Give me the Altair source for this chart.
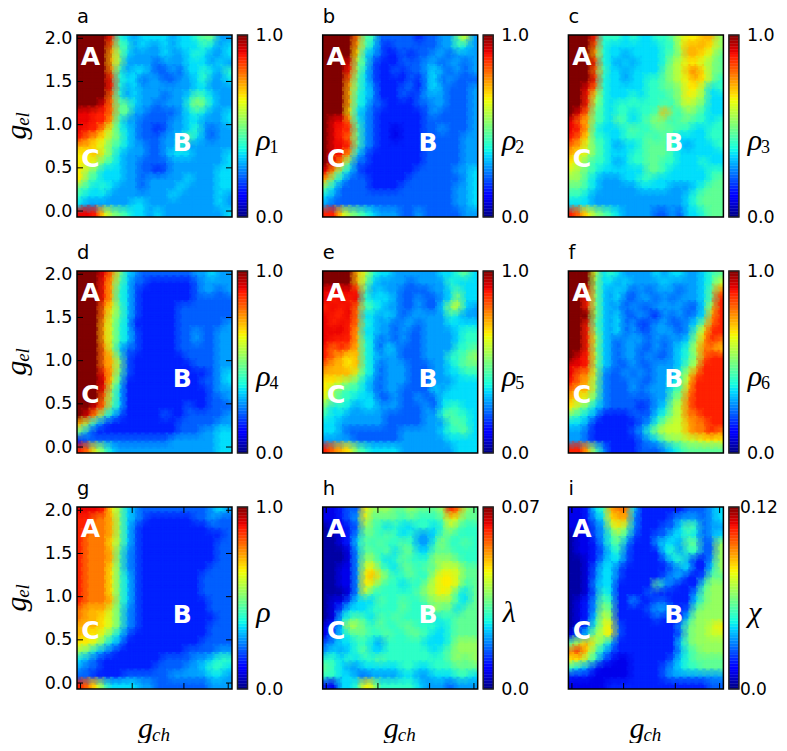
import altair as alt
import pandas as pd

X_MIN, X_MAX = -0.0068, 0.2930
Y_MIN, Y_MAX = -0.069, 2.038
W, H = 155, 182
X_TICKS = [0, 0.1, 0.2, 0.2857]
Y_TICKS = [0, 0.5, 1.0, 1.5, 2.0]
STOPS = [0, .11, .125, .34, .375, .64, .66, .89, .91, 1]
JET = ["#000080", "#0000ff", "#0000ff", "#00dbff", "#14ffe2", "#eeff08", "#ffec00", "#ff1300", "#e80000", "#800000"]

# Cell levels, in sixteenths of the colour range, top row first.
panel_a = """ffffd 65455 55455 67744|ffffc 76454 45455 56545|ffffb 85444 45445 65445|ffffb 84444 34445 55454|ffffc 64554 33435 56546|ffffd 65534 43344 56445|ffffd 64544 44444 55444|ffffc 64544 43445 76544|fffec 77544 34446 87544|eeddc 77443 33345 65445|eeddb 64433 33445 54445|eddb9 65433 23445 64344|dcba8 75433 34457 54344|bba97 65443 34464 44444|aab97 54443 34555 44445|aa976 54433 33444 44445|a8755 54433 23444 44455|a7655 54434 44445 44455|76565 44434 44454 44455|65554 44444 44544 44454|54444 44554 44444 44454|eeda8 76554 54444 44445"""
panel_b = """ffffc 76333 33233 44794|ffffb 75323 33333 44654|ffffa 54322 32334 43444|fffe8 63222 33344 34434|fffd8 53223 23345 43434|fffc7 53222 23245 34333|fffb7 54222 33245 43334|fffb6 54222 32344 43334|fffb6 53322 22334 43334|fffa5 43222 22234 33334|feec6 43222 22233 33334|fedd7 43221 22233 43334|fedc7 43221 22233 33344|feed7 43222 22233 33344|fedb5 32222 22233 33344|feb73 32222 22233 33344|eb753 22222 22333 33445|b7533 32222 23333 33345|75333 32222 33333 33445|54333 33333 33333 33445|43333 33333 33333 33445|dda87 65444 33433 33344"""
panel_c = """fffd6 66565 56679 aabb8|fffc6 55555 55669 bbba8|fffb6 55455 55678 bba97|fffd6 54545 55689 aa987|fffc7 55455 55789 bca87|fffd6 55455 66789 aba86|ffec6 55555 66778 aa856|ffd96 55565 66678 a9855|ffd86 56666 66768 98755|fec76 56656 67b76 87655|ecb76 57656 78767 76656|edb65 55676 67776 65566|dca66 55666 76765 55566|cb976 54556 77765 45556|ba976 55566 77765 55555|a9766 54566 77665 55655|98765 55555 77655 55566|88654 44556 65555 55567|77654 44445 55544 45677|66544 44444 44444 56777|55544 44444 44444 56777|dca87 65444 43343 55677"""
panel_d = """fffec 85433 33333 44544|fffdb 75332 22222 34444|fffdb 65322 22222 34434|fffdb 65322 22222 33333|fffca 75322 22233 33333|fffc9 75322 22233 33333|fffb9 65222 22233 33334|fffb9 65322 22233 43344|fffb9 65322 22233 43344|fffc9 53322 22233 33344|fffcb 73222 22223 33344|fffcb 83222 22222 33344|fffdb 73222 22222 22345|fffea 62222 22222 23345|fffd8 52222 22222 22344|fffc8 52222 22222 22334|ffec7 52222 22223 22333|feb75 32222 23223 33334|b8532 22222 22233 33344|74222 22222 22233 34455|23333 33333 33444 44455|dc975 44444 44444 44455"""
panel_e = """ffffb 96554 44444 55675|ffffb 85444 43444 46555|eeeed 74544 33334 45755|edede 65554 33433 45855|dedec 76544 33433 58954|eddec 55454 34444 46544|ededc 65443 44344 45555|eeedb 55443 43344 44566|edddb 65343 43344 44566|dcdcb 65354 33344 44667|dcbab 65444 33344 46678|cbbab 65344 43334 45677|bbbb9 65344 43334 45566|aa987 54344 43334 44555|a8766 54344 33335 45555|98665 55334 33433 55555|75654 55444 33343 56655|65544 44433 33344 67665|55444 44433 33344 46765|55433 33333 44444 56675|44443 33333 44444 45555|dcba7 65555 44444 44555"""
panel_f = """fff95 65444 45455 44567|fff85 54544 44544 44569|ffe85 45434 34443 4457c|ffd85 45334 43434 4457d|ffd85 44343 34444 3359d|fff85 45334 32434 345bd|ffd75 45342 34433 458cd|ffd85 45343 34443 47add|ffd95 43444 34344 58bdc|ffd85 43443 34345 69ccb|fed95 43443 43345 68cdd|eed85 43343 34445 79ddd|ecc94 33434 34446 9cddd|dcb84 33343 34456 adddd|cbb84 33343 44467 bdddd|ba974 33333 34478 cdddd|a8754 33332 34589 cdddd|76542 22233 35689 ccddd|55422 22223 46899 bccdd|44322 22234 68999 bccdc|44322 22223 45788 99aaa|ddb74 22223 33456 77777"""
panel_g = """eeeda 85433 33333 33454|ddccb 85432 22222 33433|ddccb 85322 22222 22333|dcccb 85322 22222 22223|dccca 85322 22222 22233|dcccb 74322 22222 22233|dcccb 74322 22222 22233|dccca 74322 22222 22333|dccca 75322 22222 23333|dccca 75322 22222 23333|dccca 75322 22222 23333|dcccb 75322 22222 22333|cbbb9 74322 22222 22333|cbba9 74322 22222 22233|bbba9 74322 22222 22333|baa97 53222 22222 22333|aa975 42222 22222 23333|87543 22222 22223 33344|54322 22222 23333 44566|43322 22222 33334 45665|33222 23333 33444 44554|dca75 55544 33333 33444"""
panel_h = """11233 a8887 78777 8dc87|11234 a7777 67666 7a977|01123 87656 55665 69766|00124 77676 56445 77666|00125 76766 76446 86676|00014 77675 77557 77666|00014 88656 76668 88766|00114 9a765 77677 99977|00114 ab976 67669 aa977|00114 a9766 56689 aa967|00014 96666 66789 a9657|01135 55766 76678 88657|01355 56666 76668 77577|01567 65767 66665 66777|12598 76766 77666 56777|13567 76676 67765 56777|34556 65466 66655 56888|45456 75566 66665 67888|66565 66766 66666 67878|76544 55555 66556 66777|66554 34444 55445 55665|21556 a9666 66544 43444"""
panel_i = """11256 bcc52 22222 33345|11245 abb42 22234 44345|11134 8a842 22335 76344|01134 68632 23355 65345|01124 67422 24554 77338|01123 56322 22564 66338|00124 55322 22356 42248|00135 53222 22234 52258|00135 53222 22344 22377|00145 52222 27432 22688|00136 52222 32222 24788|01247 62242 23322 25788|01248 72222 34432 37888|01259 82222 23222 58888|01369 a3222 22224 7889a|13589 a3222 22223 78899|79b97 52222 22225 78888|cda75 32222 22224 67888|aa863 21122 22235 67777|65421 11122 22345 66777|22211 11122 22344 44444|11111 22222 22222 22233"""

PANELS = [
    ("a", panel_a, 1.0, "ρ", "1"), ("b", panel_b, 1.0, "ρ", "2"), ("c", panel_c, 1.0, "ρ", "3"),
    ("d", panel_d, 1.0, "ρ", "4"), ("e", panel_e, 1.0, "ρ", "5"), ("f", panel_f, 1.0, "ρ", "6"),
    ("g", panel_g, 1.0, "ρ", ""), ("h", panel_h, 0.07, "λ", ""), ("i", panel_i, 0.12, "χ", ""),
]
LETTER_X = [0.0193, 0.197, 0.0193]
LETTER_Y = [1.784, 0.789, 0.604]
LETTERS = ["A", "B", "C"]
SANS = "DejaVu Sans"
SERIF = "Liberation Serif"
X_SCALE = alt.Scale(domain=[X_MIN, X_MAX], nice=False, zero=False)
Y_SCALE = alt.Scale(domain=[Y_MIN, Y_MAX], nice=False, zero=False)


def level(ch):
    n = int(ch, 16)
    if n == 15:
        return 1.0
    if n == 13:
        return 0.875
    return (n + 0.5) / 16


def cells(text, vmax):
    rows = [r.replace(" ", "") for r in text.split("|")]
    dx = (X_MAX - X_MIN) / len(rows[0])
    dy = (Y_MAX - Y_MIN) / len(rows)
    out = []
    for r, row in enumerate(rows):
        for c, ch in enumerate(row):
            out.append({"x": X_MIN + c * dx, "x2": X_MIN + (c + 1) * dx,
                        "y": Y_MAX - r * dy, "y2": Y_MAX - (r + 1) * dy,
                        "v": level(ch) * vmax})
    return pd.DataFrame(out)


def note(text, x, y, size, font=SERIF, style="italic", angle=0, align="center", baseline="middle",
         color="black", weight="normal"):
    return alt.Chart(alt.Data(values=[{"k": 1}])).mark_text(
        text=text, font=font, fontSize=size, fontStyle=style, angle=angle, align=align,
        baseline=baseline, color=color, fontWeight=weight,
    ).encode(x=alt.value(x), y=alt.value(y))


def panel(i, spec):
    name, grid, vmax, sym, sub = spec
    left, bottom = i % 3 == 0, i >= 6
    scale = alt.Scale(domain=[s * vmax for s in STOPS], range=JET, interpolate="rgb")
    x_axis = alt.Axis(values=X_TICKS, ticks=False, domain=False, grid=False, title=None, labelPadding=8,
                      labelFontSize=17.5, labelFont=SANS, labelColor="black", labelFlush=False, labelOverlap=False,
                      labelExpr="datum.value > 0.25 ? '0.3' : format(datum.value, '.1f')") if bottom else None
    y_axis = alt.Axis(values=Y_TICKS, ticks=False, domain=False, grid=False, title=None, format=".1f", labelPadding=5,
                      labelFontSize=17.5, labelFont=SANS, labelColor="black", labelFlush=False,
                      labelOverlap=False) if left else None
    data = cells(grid, vmax)
    heat = alt.Chart(data).mark_rect(strokeWidth=0.6, clip=True).encode(
        x=alt.X("x:Q", scale=X_SCALE, axis=x_axis), x2="x2:Q",
        y=alt.Y("y:Q", scale=Y_SCALE, axis=y_axis), y2="y2:Q",
        color=alt.Color("v:Q", scale=scale, legend=None),
        stroke=alt.Stroke("v:Q", scale=scale, legend=None),
    )
    layers = [heat]
    # Soft translucent cell outlines blend the edges between neighbouring cells.
    for sw, op in ((8, 0.3), (4, 0.3)):
        layers.append(alt.Chart(data).mark_rect(filled=False, strokeWidth=sw, strokeOpacity=op, clip=True).encode(
            x=alt.X("x:Q", scale=X_SCALE, axis=None), x2="x2:Q",
            y=alt.Y("y:Q", scale=Y_SCALE, axis=None), y2="y2:Q",
            stroke=alt.Stroke("v:Q", scale=scale, legend=None),
        ))
    if bottom:
        t = pd.DataFrame({"t": X_TICKS})
        for y0, y1 in ((0, 6), (H - 6, H)):
            layers.append(alt.Chart(t).mark_rule(color="black", strokeWidth=1).encode(
                x=alt.X("t:Q", scale=X_SCALE, axis=None), y=alt.value(y0), y2=alt.value(y1)))
    if left:
        t = pd.DataFrame({"t": Y_TICKS})
        for x0, x1 in ((0, 6), (W - 6, W)):
            layers.append(alt.Chart(t).mark_rule(color="black", strokeWidth=1).encode(
                y=alt.Y("t:Q", scale=Y_SCALE, axis=None), x=alt.value(x0), x2=alt.value(x1)))
    layers.append(alt.Chart(alt.Data(values=[{"k": 1}])).mark_rect(
        filled=False, stroke="black", strokeWidth=1.5).encode(
        x=alt.value(0), x2=alt.value(W), y=alt.value(0), y2=alt.value(H)))
    letters = pd.DataFrame({"x": LETTER_X, "y": LETTER_Y, "s": LETTERS})
    layers.append(alt.Chart(letters).mark_text(font=SANS, fontSize=25, fontWeight="bold", color="white").encode(
        x=alt.X("x:Q", scale=X_SCALE, axis=None), y=alt.Y("y:Q", scale=Y_SCALE, axis=None), text="s:N"))
    n = 64
    bands = pd.DataFrame([{"b0": k / n * vmax, "b1": (k + 1) / n * vmax, "v": (k + .5) / n * vmax} for k in range(n)])
    wide = vmax == 0.12
    bar_axis = alt.Axis(orient="right", values=[0, vmax], ticks=False, domain=False, grid=False, title=None,
                        labelPadding=16 if wide else 23, labelFontSize=17 if wide else 17.5, labelFont=SANS,
                        labelColor="black", labelFlush=False, labelOverlap=False,
                        labelExpr="datum.value == 0 ? '0.0' : '%s'" % ("1.0" if vmax == 1 else str(vmax)))
    layers.append(alt.Chart(bands).mark_rect(strokeWidth=0.4).encode(
        x=alt.value(160.5), x2=alt.value(170.5),
        y=alt.Y("b0:Q", scale=alt.Scale(domain=[0, vmax], nice=False, zero=False), axis=bar_axis), y2="b1:Q",
        color=alt.Color("v:Q", scale=scale, legend=None),
        stroke=alt.Stroke("v:Q", scale=scale, legend=None)))
    layers.append(alt.Chart(alt.Data(values=[{"k": 1}])).mark_rect(
        filled=False, stroke="#222222", strokeWidth=1.5).encode(
        x=alt.value(160.5), x2=alt.value(170.5), y=alt.value(0), y2=alt.value(H)))
    layers.append(note(name, 0, -12.5, 19.5, font=SANS, style="normal", align="left", baseline="alphabetic"))
    layers.append(note(sym, 186.5, 106, 30))
    if sub:
        layers.append(note(sub, 197, 113, 18, style="normal"))
    if left:
        layers.append(note("g", -60, 97, 30, angle=270))
        layers.append(note("el", -54, 84, 19, angle=270))
    if bottom:
        layers.append(note("g", 68.5, 222, 30))
        layers.append(note("ch", 84, 228, 19))
    return alt.layer(*layers).resolve_scale(y="independent").properties(width=W, height=H)


chart = alt.concat(*[panel(i, s) for i, s in enumerate(PANELS)], columns=3, bounds="flush",
                   spacing=alt.RowColnumber(row=54, column=90.7)).resolve_scale(
    color="independent", stroke="independent"
).properties(
    padding={"left": -6, "top": -2, "right": 1, "bottom": -2}
).configure_view(stroke=None)

chart.save("out.html", embed_options={"renderer": "svg", "actions": False})
